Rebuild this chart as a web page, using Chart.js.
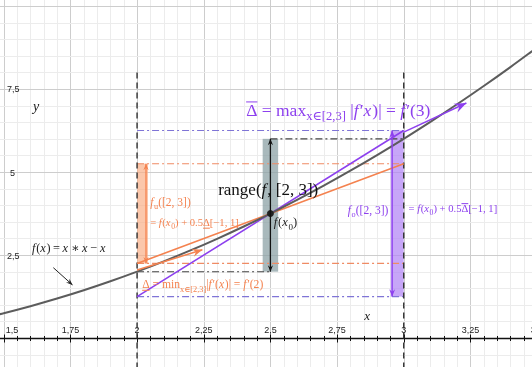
<!DOCTYPE html>
<html>
<head>
<meta charset="utf-8">
<script src="https://cdn.jsdelivr.net/npm/chart.js@4/dist/chart.umd.min.js"></script>
<style>
  body { margin: 0; background: #fff; }
  #grafico { display: block; }
</style>
</head>
<body>
<canvas id="grafico" width="532" height="367"></canvas>
<script>
// valores
const curveX = [1.4, 1.5, 1.6, 1.7, 1.8, 1.9, 2.0, 2.1, 2.2, 2.3, 2.4, 2.5, 2.6, 2.7, 2.8, 2.9, 3.0, 3.1, 3.2, 3.3, 3.4, 3.5];
const curveY = [0.56, 0.75, 0.96, 1.19, 1.44, 1.71, 2.0, 2.31, 2.64, 2.99, 3.36, 3.75, 4.16, 4.59, 5.04, 5.51, 6.0, 6.51, 7.04, 7.59, 8.16, 8.75];

const intervalo = [2, 3];          // [2, 3]
const x0 = 2.5, fx0 = 3.75;        // f(x0)
const rangeF = [2, 6];             // range(f,[2,3])
const fuBounds = [2.25, 5.25];     // f(x0) + 0.5*Delta*[-1,1]
const foBounds = [1.25, 6.25];     // f(x0) + 0.5*DeltaBar*[-1,1]
const dashTop = 8;                 // onde as linhas tracejadas comecam

const xTickValues = [1.5, 1.75, 2, 2.25, 2.5, 2.75, 3, 3.25, 3.5];
const xTickLabels = ['1,5', '1,75', '2', '2,25', '2,5', '2,75', '3', '3,25', '3,5'];
const yTickValues = [2.5, 5, 7.5];
const yTickLabels = ['2,5', '5', '7,5'];

// caixas: [x0, x1, y0, y1]
const boxU = [2.0, 2.041, fuBounds[0], fuBounds[1]];
const boxRange = [2.471, 2.529, rangeF[0], rangeF[1]];
const boxO = [2.951, 3.0, foBounds[0], foBounds[1]];

// setas (vetores): [x1, y1, x2, y2]
const arrowU = [2.0, 2.05, 2.245, 2.66];
const arrowO = [3.0, 6.2, 3.235, 7.08];

const laranja = '#f4824f';
const roxo = '#8d40ee';
const serif = '"Liberation Serif", "DejaVu Serif", serif';

function pts(xs, ys) {
  return xs.map((x, i) => ({ x: x, y: ys[i] }));
}

function isMult(v, step) {
  return Math.abs(v / step - Math.round(v / step)) < 1e-6;
}

function seta(ctx, x1, y1, x2, y2, cor, tam, ambos) {
  ctx.save();
  ctx.strokeStyle = cor;
  ctx.fillStyle = cor;
  ctx.beginPath();
  ctx.moveTo(x1, y1);
  ctx.lineTo(x2, y2);
  ctx.stroke();
  const cabeca = (ax, ay, bx, by) => {
    const a = Math.atan2(by - ay, bx - ax);
    ctx.beginPath();
    ctx.moveTo(bx, by);
    ctx.lineTo(bx - tam * Math.cos(a - 0.38), by - tam * Math.sin(a - 0.38));
    ctx.lineTo(bx - tam * 0.6 * Math.cos(a), by - tam * 0.6 * Math.sin(a));
    ctx.lineTo(bx - tam * Math.cos(a + 0.38), by - tam * Math.sin(a + 0.38));
    ctx.closePath();
    ctx.fill();
  };
  cabeca(x1, y1, x2, y2);
  if (ambos) cabeca(x2, y2, x1, y1);
  ctx.restore();
}

// texto com italico (i), subscrito (s), barra em cima (o), barra embaixo (u)
function texto(ctx, partes, x, y, size, cor) {
  let cx = x;
  ctx.save();
  ctx.fillStyle = cor;
  ctx.strokeStyle = cor;
  ctx.lineWidth = 1;
  ctx.textBaseline = 'alphabetic';
  ctx.textAlign = 'left';
  partes.forEach(p => {
    const t = p[0], st = p[1] || '';
    const fs = st.includes('s') ? size * 0.72 : size;
    ctx.font = (st.includes('i') ? 'italic ' : '') + fs + 'px ' + serif;
    const dy = st.includes('s') ? size * 0.28 : 0;
    ctx.fillText(t, cx, y + dy);
    const w = ctx.measureText(t).width;
    if (st.includes('o')) {
      ctx.beginPath(); ctx.moveTo(cx, y - size * 0.78); ctx.lineTo(cx + w, y - size * 0.78); ctx.stroke();
    }
    if (st.includes('u')) {
      ctx.beginPath(); ctx.moveTo(cx, y + 2); ctx.lineTo(cx + w, y + 2); ctx.stroke();
    }
    cx += w + (st.includes('i') ? size * 0.06 : 0);
  });
  ctx.restore();
}

const th = '\u2009';
const rotulos = [
  { x: 1.606, y: 2.58, size: 12.3, cor: '#222', p: [['f', 'i'], ['(', ''], ['x', 'i'], [')' + th + '=' + th, ''], ['x', 'i'], [th + '∗' + th, ''], ['x', 'i'], [th + '−' + th, ''], ['x', 'i']] },
  { x: 1.61, y: 6.85, size: 14, cor: '#222', p: [['y', 'i']] },
  { x: 2.852, y: 0.55, size: 13, cor: '#222', p: [['x', 'i']] },
  { x: 2.409, y: 6.7, size: 17.5, cor: roxo, p: [['Δ', 'o'], [' = max', ''], ['x∈[2,3]', 's'], [' |', ''], ['f', 'i'], ['′', ''], ['x', 'i'], [')| = ', ''], ['f', 'i'], ['′(3)', '']] },
  { x: 2.304, y: 4.3, size: 17, cor: '#111', p: [['range(', ''], ['f', 'i'], [', [2, 3])', '']] },
  { x: 2.513, y: 3.37, size: 12.5, cor: '#222', p: [['f', 'i'], ['(', ''], ['x', 'i'], ['0', 's'], [')', '']] },
  { x: 2.049, y: 3.98, size: 11.5, cor: laranja, p: [['f', 'i'], ['u', 's'], ['([2, 3])', '']] },
  { x: 2.049, y: 3.37, size: 10.6, cor: laranja, p: [['= ', ''], ['f', 'i'], ['(', ''], ['x', 'i'], ['0', 's'], [') + 0.5', ''], ['Δ', 'u'], ['[−1, 1]', '']] },
  { x: 2.79, y: 3.73, size: 11.5, cor: roxo, p: [['f', 'i'], ['o', 's'], ['([2, 3])', '']] },
  { x: 3.018, y: 3.8, size: 10.6, cor: roxo, p: [['= ', ''], ['f', 'i'], ['(', ''], ['x', 'i'], ['0', 's'], [') + 0.5', ''], ['Δ', 'o'], ['[−1, 1]', '']] },
  { x: 2.019, y: 1.5, size: 11.6, cor: laranja, p: [['Δ', 'u'], [' = min', ''], ['x∈[2,3]', 's'], ['|', ''], ['f', 'i'], ['′(', ''], ['x', 'i'], [')| = ', ''], ['f', 'i'], ['′(2)', '']] }
];

const desenhos = {
  id: 'desenhos',
  beforeDatasetsDraw(chart) {
    const ctx = chart.ctx, sx = chart.scales.x, sy = chart.scales.y;
    const X = v => sx.getPixelForValue(v), Y = v => sy.getPixelForValue(v);
    ctx.save();
    // grade
    ctx.lineWidth = 1;
    for (let v = 1.45; v < 3.55; v += 0.05) {
      const px = Math.round(X(v)) + 0.5;
      ctx.strokeStyle = isMult(v, 0.25) ? '#cdcdcd' : '#ececec';
      ctx.beginPath(); ctx.moveTo(px, 0); ctx.lineTo(px, chart.height); ctx.stroke();
    }
    for (let v = -0.5; v <= 10.01; v += 0.5) {
      const py = Math.round(Y(v)) + 0.5;
      ctx.strokeStyle = isMult(v, 2.5) ? '#cdcdcd' : '#ececec';
      ctx.beginPath(); ctx.moveTo(0, py); ctx.lineTo(chart.width, py); ctx.stroke();
    }
    // eixo x em y = 0
    const ya = Math.round(Y(0)) + 0.5;
    ctx.strokeStyle = '#111';
    ctx.lineWidth = 1.6;
    ctx.beginPath(); ctx.moveTo(0, ya); ctx.lineTo(chart.width, ya); ctx.stroke();
    ctx.lineWidth = 1;
    for (let v = 1.45; v < 3.55; v += 0.05) {
      const px = Math.round(X(v)) + 0.5;
      const h = isMult(v, 0.25) ? 4 : 2.5;
      ctx.beginPath(); ctx.moveTo(px, ya - h); ctx.lineTo(px, ya + h); ctx.stroke();
    }
    ctx.fillStyle = '#222';
    ctx.font = '9px "Liberation Sans", Arial, sans-serif';
    ctx.textAlign = 'center';
    ctx.textBaseline = 'alphabetic';
    xTickValues.forEach((v, i) => {
      let px = X(v);
      if (px < 12) px = 12;
      ctx.fillText(xTickLabels[i], px, ya - 6);
    });
    ctx.textAlign = 'left';
    ctx.textBaseline = 'middle';
    yTickValues.forEach((v, i) => {
      ctx.fillText(yTickLabels[i], yTickLabels[i].length > 1 ? 7 : 10, Y(v) + 1);
    });

    // caixas
    const caixa = (b, cor) => {
      ctx.fillStyle = cor;
      ctx.fillRect(X(b[0]), Y(b[3]), X(b[1]) - X(b[0]), Y(b[2]) - Y(b[3]));
    };
    caixa(boxU, 'rgba(250, 175, 135, 0.7)');
    caixa(boxRange, 'rgba(140, 162, 166, 0.75)');
    caixa(boxO, 'rgba(178, 132, 245, 0.72)');
    ctx.restore();
  },
  afterDatasetsDraw(chart) {
    const ctx = chart.ctx, sx = chart.scales.x, sy = chart.scales.y;
    const X = v => sx.getPixelForValue(v), Y = v => sy.getPixelForValue(v);
    ctx.save();
    ctx.lineWidth = 1.3;
    // setas dentro das caixas
    seta(ctx, X(x0), Y(rangeF[0]), X(x0), Y(rangeF[1]), '#111', 7, true);
    seta(ctx, X(boxU[1]) - 2, Y(fuBounds[0]), X(boxU[1]) - 2, Y(fuBounds[1]), laranja, 7, true);
    seta(ctx, X(boxO[0]) + 1.5, Y(foBounds[1]), X(boxO[0]) + 1.5, Y(foBounds[0]), roxo, 8, true);
    // vetores tangentes
    ctx.lineWidth = 1.5;
    seta(ctx, X(arrowU[0]), Y(arrowU[1]), X(arrowU[2]), Y(arrowU[3]), laranja, 11, false);
    seta(ctx, X(arrowO[0]), Y(arrowO[1]), X(arrowO[2]), Y(arrowO[3]), roxo, 13, false);
    // seta do rotulo f(x)
    ctx.lineWidth = 1;
    seta(ctx, X(1.686), Y(2.12), X(1.758), Y(1.6), '#222', 7, false);
    ctx.restore();

    rotulos.forEach(r => texto(ctx, r.p, X(r.x), Y(r.y), r.size, r.cor));
  }
};

const linha = (data, cor, largura, dash, ordem) => ({
  data: data,
  showLine: true,
  borderColor: cor,
  backgroundColor: cor,
  borderWidth: largura,
  borderDash: dash || [],
  pointRadius: 0,
  pointHoverRadius: 0,
  tension: 0,
  order: ordem
});

const curva = linha(pts(curveX, curveY), '#5c5c5c', 2, null, 1);
curva.cubicInterpolationMode = 'monotone';

const datasets = [
  curva,
  linha(pts(intervalo, fuBounds), laranja, 1.6, null, 3),
  linha(pts(intervalo, foBounds), roxo, 1.6, null, 2),
  linha([{ x: intervalo[0], y: dashTop }, { x: intervalo[0], y: -1 }], '#333', 1.4, [6, 4], 4),
  linha([{ x: intervalo[1], y: dashTop }, { x: intervalo[1], y: -1 }], '#333', 1.4, [6, 4], 4),
  linha(pts(intervalo, [foBounds[1], foBounds[1]]), '#7f74d6', 1.1, [7, 3, 2, 3], 5),
  linha(pts(intervalo, [foBounds[0], foBounds[0]]), '#7f74d6', 1.1, [7, 3, 2, 3], 5),
  linha(pts(intervalo, [fuBounds[1], fuBounds[1]]), '#ef8b64', 1.1, [7, 3, 2, 3], 5),
  linha(pts(intervalo, [fuBounds[0], fuBounds[0]]), '#ef8b64', 1.1, [7, 3, 2, 3], 5),
  linha([{ x: x0, y: rangeF[1] }, { x: intervalo[1], y: rangeF[1] }], '#444', 1.1, [7, 3, 2, 3], 5),
  linha([{ x: intervalo[0], y: rangeF[0] }, { x: x0, y: rangeF[0] }], '#444', 1.1, [7, 3, 2, 3], 5),
  { data: [{ x: x0, y: fx0 }], pointRadius: 3, backgroundColor: '#222', borderColor: '#222', showLine: false, order: 0 }
];

new Chart(document.getElementById('grafico'), {
  type: 'scatter',
  data: { datasets: datasets },
  options: {
    responsive: false,
    animation: false,
    layout: { padding: 0, autoPadding: false },
    plugins: { legend: { display: false }, tooltip: { enabled: false } },
    scales: {
      x: { type: 'linear', min: 1.486, max: 3.481, display: false },
      y: { type: 'linear', min: -0.87, max: 10.18, display: false }
    }
  },
  plugins: [desenhos]
});
</script>
</body>
</html>
